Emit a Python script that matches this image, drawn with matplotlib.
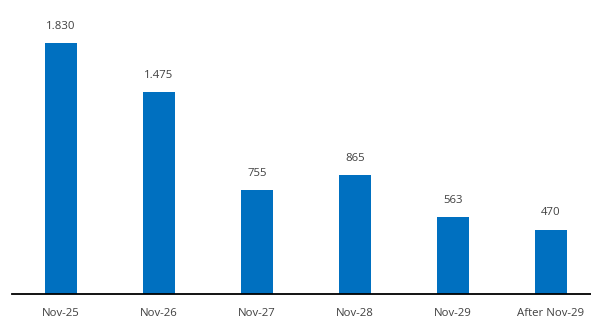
import matplotlib.pyplot as plt
import numpy as np

categories = ["Nov-25", "Nov-26", "Nov-27", "Nov-28", "Nov-29", "After Nov-29"]
values = [1830, 1475, 755, 865, 563, 470]


def fmt(v):
    # thousands separator as a dot
    return f"{v:,}".replace(",", ".")


plt.rcParams["font.family"] = ["Open Sans", "DejaVu Sans"]

fig = plt.figure(figsize=(5.91, 3.2), dpi=100)
ax = fig.add_axes([12 / 591, 26 / 320, 579 / 591, 294 / 320])

x = np.arange(len(categories))
bars = ax.bar(x, values, width=0.32, color="#0070C0")

for b, v in zip(bars, values):
    ax.annotate(fmt(v), (b.get_x() + b.get_width() / 2, v),
                xytext=(0, 8), textcoords="offset points",
                ha="center", va="bottom", fontsize=8.2, color="#404040")

ax.set_xlim(-0.5, 5.41)
ax.set_ylim(0, 2143)
ax.set_xticks(x, categories)
ax.tick_params(axis="x", length=0, pad=10, labelsize=8.2, labelcolor="#404040")
ax.set_yticks([])
for side in ["left", "right", "top"]:
    ax.spines[side].set_visible(False)
ax.spines["bottom"].set_linewidth(1.3)
ax.spines["bottom"].set_color("black")

fig.savefig("out.png", dpi=100)
